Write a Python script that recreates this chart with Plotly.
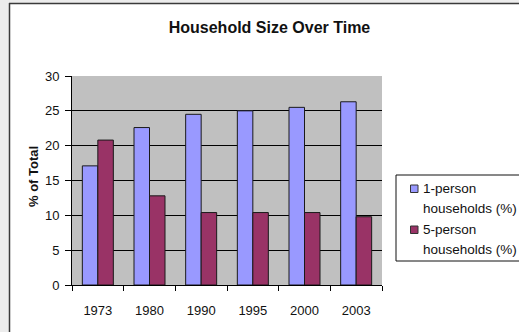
import plotly.graph_objects as go

# Survey years and household shares (%)
years = ["1973", "1980", "1990", "1995", "2000", "2003"]
one_person = [17.1, 22.6, 24.5, 25.0, 25.5, 26.3]
five_person = [20.8, 12.8, 10.4, 10.4, 10.4, 9.8]
series_names = ["1-person<br>households (%)", "5-person<br>households (%)"]
legend_lines = [["1-person", "households (%)"], ["5-person", "households (%)"]]
y_ticks = [0, 5, 10, 15, 20, 25, 30]

W, H = 519, 332
M = dict(l=72, r=137, t=76, b=47)
PW = W - M["l"] - M["r"]
PH = H - M["t"] - M["b"]

FONT = "Liberation Sans, Arial, sans-serif"
C1, C5 = "#9999FF", "#993366"


def px(x):
    """Pixel column -> paper x."""
    return (x - M["l"]) / PW


def py(y):
    """Pixel row (from top) -> paper y."""
    return (H - M["b"] - y) / PH


fig = go.Figure()
for name, vals, col in [(series_names[0], one_person, C1), (series_names[1], five_person, C5)]:
    fig.add_trace(go.Bar(
        x=years, y=vals, name=name,
        marker=dict(color=col, line=dict(color="#1a1a1a", width=1)),
        showlegend=False,
    ))

shapes = []
# outer frame: light strip on the left and top, dark border line
shapes.append(dict(type="rect", xref="paper", yref="paper", x0=px(0), x1=px(9), y0=py(H + 5), y1=py(-5),
                   fillcolor="#ececec", line=dict(width=0), layer="above"))
shapes.append(dict(type="rect", xref="paper", yref="paper", x0=px(0), x1=px(W + 5), y0=py(3), y1=py(-5),
                   fillcolor="#ececec", line=dict(width=0), layer="above"))
shapes.append(dict(type="line", xref="paper", yref="paper", x0=px(9.5), x1=px(9.5), y0=py(3), y1=py(H + 5),
                   line=dict(color="#3a3a3a", width=1.5), layer="above"))
shapes.append(dict(type="line", xref="paper", yref="paper", x0=px(9), x1=px(W + 5), y0=py(3.5), y1=py(3.5),
                   line=dict(color="#3a3a3a", width=1.5), layer="above"))

# legend box
shapes.append(dict(type="rect", xref="paper", yref="paper", x0=px(396), x1=px(W + 10), y0=py(261), y1=py(175),
                   fillcolor="white", line=dict(color="#111111", width=1), layer="above"))
annotations = []
for i, (lines, col) in enumerate(zip(legend_lines, [C1, C5])):
    top = 185 + 41 * i
    shapes.append(dict(type="rect", xref="paper", yref="paper", x0=px(410.5), x1=px(418),
                       y0=py(top + 7.5), y1=py(top), fillcolor=col,
                       line=dict(color="#333333", width=1), layer="above"))
    for j, txt in enumerate(lines):
        annotations.append(dict(text=txt, xref="paper", yref="paper", x=px(421), y=py(188.5 + 41 * i + 19.5 * j),
                                xanchor="left", yanchor="middle", showarrow=False,
                                font=dict(family=FONT, size=13.5, color="#111111")))

# y-axis title
annotations.append(dict(text="<b>% of Total</b>", xref="paper", yref="paper", x=px(33), y=py(177),
                        xanchor="center", yanchor="middle", textangle=-90, showarrow=False,
                        font=dict(family=FONT, size=13, color="#111111")))

fig.update_layout(
    width=W, height=H, margin=M,
    paper_bgcolor="white", plot_bgcolor="#C0C0C0",
    barmode="group", bargap=0.4, bargroupgap=0,
    title=dict(text="<b>Household Size Over Time</b>", x=269.5 / W, xref="container", xanchor="center",
               y=1 - 27 / H, yref="container", yanchor="middle",
               font=dict(family=FONT, size=16, color="#111111")),
    font=dict(family=FONT, size=13, color="#111111"),
    shapes=shapes, annotations=annotations,
    showlegend=False,
)
fig.update_xaxes(
    type="category", tickson="boundaries", ticks="outside", ticklen=5, tickcolor="black",
    showline=True, linecolor="black", linewidth=1, showgrid=False,
    tickfont=dict(family=FONT, size=13, color="#111111"), ticklabelstandoff=13,
)
fig.update_yaxes(
    range=[0, 30], tickvals=y_ticks, ticks="outside", ticklen=6, tickcolor="black",
    showline=True, linecolor="black", linewidth=1,
    showgrid=True, gridcolor="black", gridwidth=1, zeroline=False,
    tickfont=dict(family=FONT, size=13, color="#111111"), ticklabelstandoff=3,
)

fig.write_html("out.html")
